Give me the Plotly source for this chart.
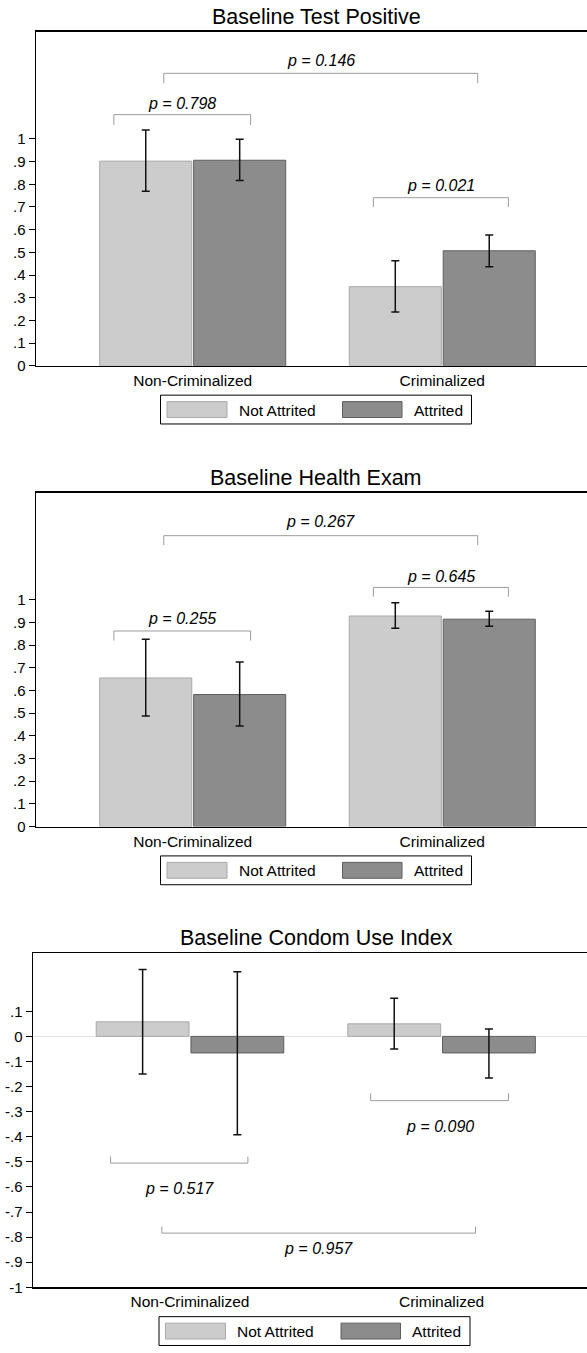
import plotly.graph_objects as go

# ---------------- data ----------------
categories = ["Non-Criminalized", "Criminalized"]
series_names = ["Not Attrited", "Attrited"]
panel_titles = ["Baseline Test Positive", "Baseline Health Exam", "Baseline Condom Use Index"]

# Baseline Test Positive
test_pos_not_attr = [0.902, 0.349]
test_pos_not_attr_lo = [0.769, 0.237]
test_pos_not_attr_hi = [1.039, 0.463]
test_pos_attr = [0.906, 0.507]
test_pos_attr_lo = [0.817, 0.437]
test_pos_attr_hi = [0.998, 0.577]

# Baseline Health Exam
health_not_attr = [0.655, 0.928]
health_not_attr_lo = [0.487, 0.874]
health_not_attr_hi = [0.826, 0.986]
health_attr = [0.582, 0.914]
health_attr_lo = [0.443, 0.883]
health_attr_hi = [0.725, 0.949]

# Baseline Condom Use Index
condom_not_attr = [0.058, 0.050]
condom_not_attr_lo = [-0.150, -0.050]
condom_not_attr_hi = [0.267, 0.152]
condom_attr = [-0.066, -0.066]
condom_attr_lo = [-0.392, -0.166]
condom_attr_hi = [0.258, 0.029]

# p-values (within Non-Criminalized, within Criminalized, between groups)
p_within_noncrim = ["0.798", "0.255", "0.517"]
p_within_crim = ["0.021", "0.645", "0.090"]
p_between = ["0.146", "0.267", "0.957"]

# tick labels
prop_tickvals = [0, 0.1, 0.2, 0.3, 0.4, 0.5, 0.6, 0.7, 0.8, 0.9, 1.0]
prop_ticktext = ["0", ".1", ".2", ".3", ".4", ".5", ".6", ".7", ".8", ".9", "1"]
condom_tickvals = [-1.0, -0.9, -0.8, -0.7, -0.6, -0.5, -0.4, -0.3, -0.2, -0.1, 0, 0.1]
condom_ticktext = ["-1", "-.9", "-.8", "-.7", "-.6", "-.5", "-.4", "-.3", "-.2", "-.1", "0", ".1"]

# ---------------- layout constants ----------------
W, H = 587, 1353
FONT = "Liberation Sans, Arial, Helvetica, sans-serif"
DY = [0, 463.5, 927]
PLOT_LEFT = [36, 36, 33]
PLOT_TOP, PLOT_BOTTOM = 32, 368
X_RANGES = [[-0.628, 1.58], [-0.628, 1.58], [-0.624, 1.578]]
Y_RANGES = [[0, 1.472], [0, 1.472], [-1, 0.331]]
LIGHT_FILL, LIGHT_LINE = "#cccccc", "#a9a9a9"
DARK_FILL, DARK_LINE = "#8c8c8c", "#5f5f5f"
BRACKET_COLOR = "#9c9c9c"

# bracket geometry per panel: (x0, x1, y_line, y_tick_end, y_text)
BRACKETS = [
    [(-0.316, 0.232, 1.107, 1.061, 1.157),
     (0.724, 1.265, 0.741, 0.700, 0.796),
     (-0.116, 1.142, 1.289, 1.246, 1.346)],
    [(-0.316, 0.232, 0.862, 0.820, 0.915),
     (0.724, 1.265, 1.054, 1.013, 1.104),
     (-0.116, 1.142, 1.282, 1.240, 1.345)],
    [(-0.316, 0.230, -0.505, -0.479, -0.607),
     (0.718, 1.266, -0.256, -0.227, -0.358),
     (-0.112, 1.135, -0.784, -0.758, -0.846)],
]

panels = [
    (test_pos_not_attr, test_pos_not_attr_lo, test_pos_not_attr_hi,
     test_pos_attr, test_pos_attr_lo, test_pos_attr_hi),
    (health_not_attr, health_not_attr_lo, health_not_attr_hi,
     health_attr, health_attr_lo, health_attr_hi),
    (condom_not_attr, condom_not_attr_lo, condom_not_attr_hi,
     condom_attr, condom_attr_lo, condom_attr_hi),
]
p_texts = [[p_within_noncrim[k], p_within_crim[k], p_between[k]] for k in range(3)]
ticks = [(prop_tickvals, prop_ticktext), (prop_tickvals, prop_ticktext),
         (condom_tickvals, condom_ticktext)]


def px(x):
    return x / W


def py(y):
    return 1 - y / H


xpos = list(range(len(categories)))
fig = go.Figure()
shapes = []
annotations = []
layout_axes = {}

for k in range(3):
    sfx = "" if k == 0 else str(k + 1)
    xa, ya = "x" + sfx, "y" + sfx
    m1, lo1, hi1, m2, lo2, hi2 = panels[k]
    for name, m, lo, hi, fill, line in [
        (series_names[0], m1, lo1, hi1, LIGHT_FILL, LIGHT_LINE),
        (series_names[1], m2, lo2, hi2, DARK_FILL, DARK_LINE),
    ]:
        fig.add_trace(go.Bar(
            x=xpos, y=m, name=name, xaxis=xa, yaxis=ya, showlegend=False,
            marker=dict(color=fill, line=dict(color=line, width=1)),
            error_y=dict(type="data", symmetric=False,
                         array=[h - v for h, v in zip(hi, m)],
                         arrayminus=[v - l for v, l in zip(m, lo)],
                         color="#111111", thickness=1.5, width=4),
        ))

    dy = DY[k]
    tv, tt = ticks[k]
    layout_axes["xaxis" + sfx] = dict(
        domain=[px(PLOT_LEFT[k]), 1], range=X_RANGES[k], anchor=ya,
        tickvals=xpos, ticktext=categories, ticks="",
        showline=True, linecolor="#000000", linewidth=1.5, mirror=True,
        showgrid=False, zeroline=False,
        tickfont=dict(family=FONT, size=15.5, color="#000000"),
    )
    layout_axes["yaxis" + sfx] = dict(
        domain=[py(PLOT_BOTTOM + dy), py(PLOT_TOP + dy)], range=Y_RANGES[k], anchor=xa,
        tickvals=tv, ticktext=tt, ticks="outside", ticklen=6, tickwidth=1,
        tickcolor="#000000",
        showline=True, linecolor="#000000", linewidth=1.5,
        showgrid=False,
        zeroline=(k == 2), zerolinecolor="#e3e3e3", zerolinewidth=1.5,
        tickfont=dict(family=FONT, size=15, color="#000000"),
    )

    # title
    annotations.append(dict(
        text=panel_titles[k], xref="paper", yref="paper", x=px(316), y=py(17 + dy),
        xanchor="center", yanchor="middle", showarrow=False,
        font=dict(family=FONT, size=21.5, color="#000000"),
    ))

    # brackets + p-values
    for (x0, x1, yl, yt, ytext), ptxt in zip(BRACKETS[k], p_texts[k]):
        for (a0, b0, a1, b1) in [(x0, yt, x0, yl), (x0, yl, x1, yl), (x1, yl, x1, yt)]:
            shapes.append(dict(type="line", xref=xa, yref=ya, x0=a0, y0=b0, x1=a1, y1=b1,
                               line=dict(color=BRACKET_COLOR, width=1)))
        annotations.append(dict(
            text="<i>p = " + ptxt + "</i>", xref=xa, yref=ya, x=(x0 + x1) / 2, y=ytext,
            xanchor="center", yanchor="middle", showarrow=False,
            font=dict(family=FONT, size=16, color="#000000"),
        ))

    # legend (drawn)
    dx = -1.5 if k == 2 else 0
    shapes.append(dict(type="rect", xref="paper", yref="paper",
                       x0=px(160.5 + dx), x1=px(471.5 + dx), y0=py(426.5 + dy), y1=py(397.5 + dy),
                       line=dict(color="#000000", width=1), fillcolor="#ffffff"))
    for (sx0, sx1, fill, line, tx, label) in [
        (167, 227, LIGHT_FILL, LIGHT_LINE, 236.5, series_names[0]),
        (342.5, 402, DARK_FILL, DARK_LINE, 411.5, series_names[1]),
    ]:
        shapes.append(dict(type="rect", xref="paper", yref="paper",
                           x0=px(sx0 + dx), x1=px(sx1 + dx), y0=py(420 + dy), y1=py(404 + dy),
                           line=dict(color=line, width=1), fillcolor=fill))
        annotations.append(dict(
            text=label, xref="paper", yref="paper", x=px(tx + dx), y=py(412.5 + dy),
            xanchor="left", yanchor="middle", showarrow=False,
            font=dict(family=FONT, size=15.5, color="#000000"),
        ))

fig.update_layout(
    width=W, height=H,
    margin=dict(l=0, r=0, t=0, b=0),
    paper_bgcolor="#ffffff", plot_bgcolor="#ffffff",
    barmode="group", bargap=0.247, bargroupgap=0.02,
    showlegend=False, hovermode=False,
    shapes=shapes, annotations=annotations,
    font=dict(family=FONT, color="#000000"),
    **layout_axes,
)

fig.write_html(
    "out.html",
    config={"displayModeBar": False, "staticPlot": True},
    post_script="document.body.style.margin='0';document.body.style.overflow='hidden';",
)
